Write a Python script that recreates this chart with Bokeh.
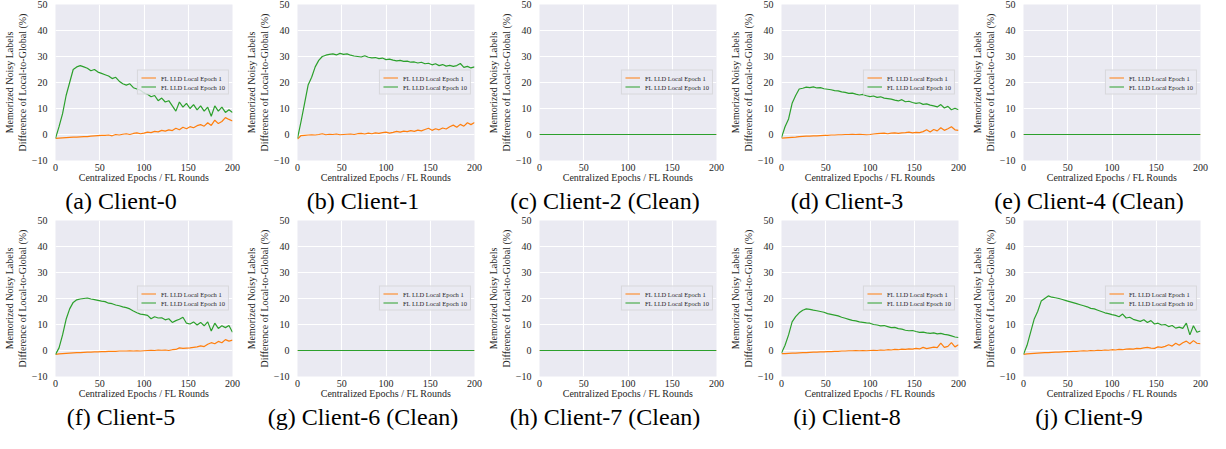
from bokeh.plotting import figure
from bokeh.layouts import column, row
from bokeh.models import Div, Legend, LegendItem, FixedTicker, Range1d
from bokeh.embed import file_html
from bokeh.resources import INLINE

# ---------------- data ----------------
epochs = [0, 4, 8, 12, 16, 20, 24, 28, 32, 36, 40, 44, 48, 52, 56, 60, 64, 68, 72, 76, 80,
          84, 88, 92, 96, 100, 104, 108, 112, 116, 120, 124, 128, 132, 136, 140, 144, 148,
          152, 156, 160, 164, 168, 172, 176, 180, 184, 188, 192, 196, 200]

c0_e1 = [-1.5, -1.4, -1.3, -1.2, -1.1, -1.0, -1.0, -0.9, -0.8, -0.8, -0.6, -0.5, -0.4, -0.3, -0.3,
         -0.2, -0.5, 0.0, -0.2, 0.1, 0.3, 0.0, 0.4, 0.6, 0.3, 0.5, 0.9, 0.7, 1.2, 1.0, 1.6, 1.3,
         1.8, 1.5, 2.4, 1.8, 2.8, 2.2, 3.0, 2.6, 3.4, 3.8, 3.2, 4.5, 3.5, 5.5, 4.2, 5.0, 6.5, 5.8, 5.2]
c0_e10 = [-1.5, 3, 8, 15, 20, 25, 26, 26.5, 26, 25.5, 24.5, 25, 24, 23.5, 23, 22.5, 21.5, 22, 20.5,
          19.5, 19, 19.5, 18, 17.5, 17, 16, 15.5, 14.5, 15, 13, 14, 12.5, 13, 11, 9, 12.5, 10.5,
          12, 10, 11.5, 9.5, 11, 9, 10.5, 7, 11, 9, 10.5, 8.5, 9.5, 8.5]

c1_e1 = [-1.8, -0.4, -0.3, -0.2, -0.1, -0.2, 0.0, 0.3, -0.1, 0.1, 0.0, 0.2, -0.1, 0.0, 0.1, 0.2,
         0.0, 0.3, 0.4, 0.2, 0.5, 0.3, 0.6, 0.4, 0.7, 0.9, 0.5, 0.8, 1.2, 0.9, 1.3, 1.1, 1.5, 1.2,
         1.7, 1.4, 1.9, 2.4, 1.6, 2.2, 1.8, 2.5, 2.1, 3.0, 3.6, 2.8, 3.9, 3.2, 4.5, 3.8, 4.6]
c1_e10 = [-1.5, 5, 12, 19, 22, 26, 28.5, 30, 30.5, 30.8, 31, 30.6, 31.2, 30.8, 31, 30.5, 30.2, 30,
          29.8, 30.3, 29.7, 29.5, 29.6, 29.2, 29.4, 28.8, 29, 28.6, 28.3, 28.5, 28.1, 28.2, 27.8,
          27.9, 27.5, 27.8, 27.2, 27.4, 26.8, 27.2, 26.5, 26.9, 26.3, 26.6, 26.2, 26.5, 27.3, 25.8,
          26.2, 25.6, 26]

c3_e1 = [-1.4, -1.3, -1.2, -1.1, -1.0, -0.8, -0.7, -0.6, -0.6, -0.5, -0.5, -0.4, -0.3, -0.3, -0.2,
         -0.2, -0.1, -0.1, 0.0, 0.0, 0.1, 0.0, 0.1, 0.0, -0.1, 0.0, 0.2, 0.3, 0.4, 0.5, 0.3, 0.5,
         0.6, 0.4, 0.6, 0.7, 0.9, 0.6, 0.8, 0.7, 1.1, 1.8, 1.0, 1.9, 1.4, 2.6, 1.6, 2.2, 3.0, 1.8, 1.6]
c3_e10 = [-1.2, 3, 6, 12, 15, 17.5, 17.8, 18.2, 18, 18.3, 17.9, 18, 17.6, 17.4, 17.2, 16.9, 16.8,
          16.4, 16.2, 15.8, 15.9, 15.5, 15.2, 15.4, 14.9, 14.6, 14.8, 14.3, 14.5, 14.0, 13.8, 13.6,
          13.2, 12.9, 13.4, 12.6, 12.8, 12.3, 12.0, 12.2, 11.6, 11.8, 11.3, 11.0, 10.6, 11.5, 10.2,
          10.8, 9.5, 10.1, 9.5]

c5_e1 = [-1.5, -1.3, -1.2, -1.1, -1.0, -0.9, -0.8, -0.8, -0.7, -0.6, -0.6, -0.5, -0.5, -0.4, -0.4,
         -0.3, -0.3, -0.3, -0.2, -0.2, -0.2, -0.1, -0.2, -0.1, -0.2, -0.1, 0.0, 0.1, 0.0, 0.2, 0.1,
         0.2, 0.0, 0.3, 0.4, 1.0, 0.8, 0.9, 1.0, 1.2, 1.4, 1.8, 1.5, 2.4, 3.0, 2.6, 3.5, 3.0, 4.2,
         3.6, 4.0]
c5_e10 = [-1.5, 1, 6, 12, 16, 18.5, 19.5, 19.8, 20, 20.2, 19.8, 19.6, 19.3, 19.0, 18.8, 18.2, 18.0,
          17.5, 17.2, 16.8, 16.5, 16.0, 15.2, 14.5, 14.0, 13.8, 13.5, 12.2, 13.0, 12.5, 12.6, 11.8,
          12.2, 10.8, 11.5, 12.0, 12.8, 10.5, 10.2, 11.0, 9.8, 10.8, 9.5, 11.0, 7.5, 10.5, 8.5, 9.5,
          8.8, 9.6, 7.0]

c8_e1 = [-1.2, -1.2, -1.1, -1.0, -1.0, -0.9, -0.8, -0.8, -0.7, -0.6, -0.6, -0.5, -0.5, -0.4, -0.4,
         -0.3, -0.3, -0.2, -0.2, -0.1, -0.1, 0.0, -0.1, 0.0, -0.1, 0.0, 0.1, 0.0, 0.2, 0.1, 0.3, 0.2,
         0.4, 0.3, 0.5, 0.4, 0.6, 0.5, 0.8, 0.6, 1.2, 0.7, 1.0, 1.3, 1.1, 2.8, 1.2, 1.6, 3.0, 1.4, 2.2]
c8_e10 = [-1, 2, 6, 11, 13, 14.5, 15.5, 16, 15.8, 15.5, 15.3, 15.0, 14.7, 14.2, 13.9, 13.6, 13.3,
          12.8, 12.4, 12.0, 11.6, 11.4, 11.0, 10.8, 10.6, 10.5, 10.0, 9.8, 9.5, 9.6, 9.2, 8.8, 8.9,
          8.4, 8.2, 7.8, 7.6, 7.7, 7.3, 7.0, 7.1, 6.8, 6.6, 6.8, 6.4, 6.6, 6.2, 6.0, 5.6, 5.2, 5.0]

c9_e1 = [-1.5, -1.3, -1.2, -1.1, -1.0, -0.9, -0.8, -0.8, -0.7, -0.6, -0.6, -0.5, -0.4, -0.4, -0.3,
         -0.3, -0.2, -0.1, -0.2, 0.0, -0.1, 0.1, 0.0, 0.2, 0.1, 0.3, 0.2, 0.4, 0.3, 0.5, 0.6, 0.5,
         0.8, 0.7, 1.0, 1.2, 0.9, 0.8, 1.4, 1.2, 1.6, 2.2, 1.7, 2.8, 2.0, 3.0, 3.6, 2.6, 3.8, 2.8, 2.6]
c9_e10 = [-1.5, 2, 7, 12, 15, 19, 20, 21, 20.5, 20.3, 20, 19.6, 19.2, 18.8, 18.4, 18.0, 17.6, 17.2,
          16.8, 16.2, 16.0, 15.5, 15.0, 14.5, 14.2, 13.8, 13.5, 13.0, 14.0, 12.5, 12.8, 12.0, 11.6,
          11.2, 11.8, 10.8, 11.5, 10.2, 10.5, 9.8, 10.0, 9.2, 9.6, 8.6, 9.0, 8.5, 10.5, 6.0, 9.5,
          7.0, 7.5]

clean_x = [0, 200]
clean_y = [0, 0]

captions = ["(a) Client-0", "(b) Client-1", "(c) Client-2 (Clean)", "(d) Client-3",
            "(e) Client-4 (Clean)", "(f) Client-5", "(g) Client-6 (Clean)",
            "(h) Client-7 (Clean)", "(i) Client-8", "(j) Client-9"]
legend_labels = ["FL I.I.D Local Epoch 1", "FL I.I.D Local Epoch 10"]
x_ticks = [0, 50, 100, 150, 200]
y_ticks = [-10, 0, 10, 20, 30, 40, 50]

series = [
    (epochs, c0_e1, c0_e10),
    (epochs, c1_e1, c1_e10),
    (clean_x, clean_y, clean_y),
    (epochs, c3_e1, c3_e10),
    (clean_x, clean_y, clean_y),
    (epochs, c5_e1, c5_e10),
    (clean_x, clean_y, clean_y),
    (clean_x, clean_y, clean_y),
    (epochs, c8_e1, c8_e10),
    (epochs, c9_e1, c9_e10),
]

ORANGE = "#FF7F0E"
GREEN = "#2CA02C"
BG = "#EAEAF2"
FONT = "Liberation Serif"
TXT = "#262626"

FIG_W = 242
FIG_H = 185
CAP_H = 31
B_LEFT, B_RIGHT, B_TOP, B_BOTTOM = 39, 10, 4, 20


def make_panel(cap, xs, y1, y10):
    p = figure(width=FIG_W, height=FIG_H, output_backend="svg", toolbar_location=None,
               x_range=Range1d(0, 200), y_range=Range1d(-10, 50),
               min_border_left=B_LEFT, min_border_right=B_RIGHT,
               min_border_top=B_TOP, min_border_bottom=B_BOTTOM)
    p.background_fill_color = BG
    p.border_fill_color = "white"
    p.outline_line_color = None
    for ax in (p.xaxis[0], p.yaxis[0]):
        ax.axis_line_color = None
        ax.major_tick_line_color = None
        ax.minor_tick_line_color = None
        ax.major_label_text_font = FONT
        ax.major_label_text_font_size = "10px"
        ax.major_label_text_color = TXT
        ax.axis_label_text_font = FONT
        ax.axis_label_text_font_size = "10px"
        ax.axis_label_text_font_style = "normal"
        ax.axis_label_text_color = TXT
    p.xaxis[0].ticker = FixedTicker(ticks=x_ticks)
    p.yaxis[0].ticker = FixedTicker(ticks=y_ticks)
    p.yaxis[0].major_label_overrides = {-10: "\u221210"}
    p.xaxis[0].axis_label = "Centralized Epochs / FL Rounds"
    p.yaxis[0].axis_label = "Memorized Noisy Labels\nDifference of Local-to-Global (%)"
    p.xaxis[0].major_label_standoff = -3
    p.yaxis[0].major_label_standoff = 2
    p.xaxis[0].axis_label_standoff = -2
    p.yaxis[0].axis_label_standoff = 1
    p.grid.grid_line_color = "white"
    p.grid.grid_line_width = 1.1
    p.xgrid.ticker = FixedTicker(ticks=x_ticks)
    p.ygrid.ticker = FixedTicker(ticks=y_ticks)

    r1 = p.line(xs, y1, line_color=ORANGE, line_width=1.2)
    r10 = p.line(xs, y10, line_color=GREEN, line_width=1.2)

    leg = Legend(items=[LegendItem(label=legend_labels[0], renderers=[r1]),
                        LegendItem(label=legend_labels[1], renderers=[r10])],
                 location="center_right")
    leg.label_text_font = FONT
    leg.label_text_font_size = "6.5px"
    leg.label_text_color = TXT
    leg.label_height = 8
    leg.glyph_height = 8
    leg.glyph_width = 15
    leg.label_standoff = 5
    leg.spacing = 1
    leg.padding = 3
    leg.margin = 3
    leg.background_fill_color = BG
    leg.background_fill_alpha = 0.85
    leg.border_line_color = "#C8C8C8"
    leg.border_line_width = 1
    p.add_layout(leg, "center")

    div = Div(text=cap, width=FIG_W, height=CAP_H, margin=(0, 0, 0, 0),
              styles={"text-align": "center", "font-family": "'Liberation Serif', serif",
                      "font-size": "24px", "line-height": "32px", "color": "black",
                      "width": f"{FIG_W}px", "white-space": "nowrap"})
    return column(p, div, spacing=0)


panels = [make_panel(c, *s) for c, s in zip(captions, series)]
layout = column(row(*panels[:5], spacing=0), row(*panels[5:], spacing=0), spacing=0)

open("out.html", "w").write(file_html(layout, INLINE))
